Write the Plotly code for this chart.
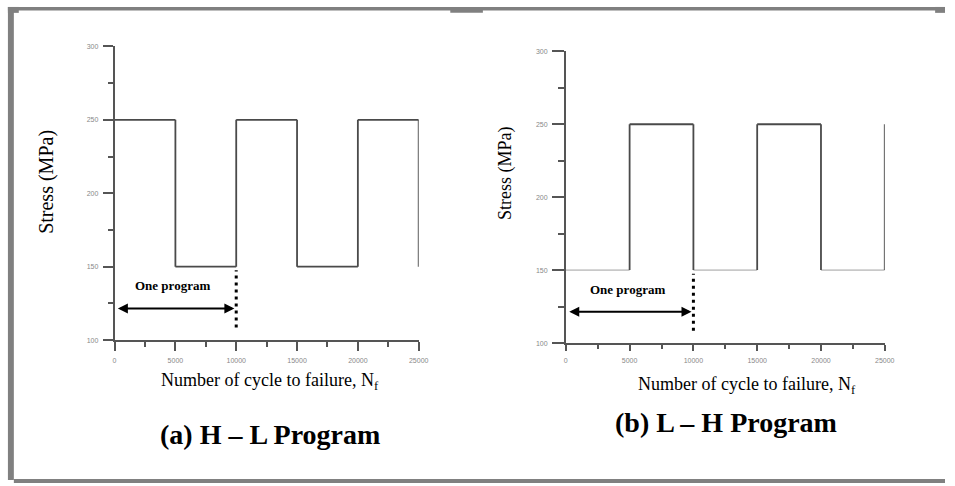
import plotly.graph_objects as go

# ---------------- data ----------------
cycle_edges = [0, 5000, 10000, 15000, 20000, 25000]
hl_levels = [250, 150, 250, 150, 250, 150]   # H-L program (last value = start of next block)
lh_levels = [150, 250, 150, 250, 150, 250]   # L-H program
program_length = 10000
x_ticks = [0, 5000, 10000, 15000, 20000, 25000]
y_ticks = [100, 150, 200, 250, 300]
arrow_stress = 121.5
label_stress = 137
dotted_stress = [108.5, 147.5]

W, H = 955, 486
def px(x): return x / W
def py(y): return 1 - y / H

DARK = "#4a4a4a"
LIGHT = "#c8c8c8"
AX = "#555555"
SERIF = "Liberation Serif, Times New Roman, serif"

fig = go.Figure()

def split_segments(xs, ys, low_light):
    dark_x, dark_y, light_x, light_y = [], [], [], []
    lo = min(ys)
    for i in range(len(xs) - 1):
        if low_light and ys[i] == lo:
            light_x += [xs[i], xs[i + 1], None]; light_y += [ys[i], ys[i], None]
        else:
            dark_x += [xs[i], xs[i + 1], None]; dark_y += [ys[i], ys[i], None]
        dark_x += [xs[i + 1], xs[i + 1], None]; dark_y += [ys[i], ys[i + 1], None]
    return dark_x, dark_y, light_x, light_y

# panel a
dx, dy, lx, ly = split_segments(cycle_edges, hl_levels, False)
fig.add_trace(go.Scatter(x=dx, y=dy, mode="lines", line=dict(color=DARK, width=1.8),
                         xaxis="x", yaxis="y", hoverinfo="skip"))
fig.add_trace(go.Scatter(x=[program_length, program_length], y=dotted_stress, mode="lines",
                         line=dict(color="black", width=3, dash="3px,4px"),
                         xaxis="x", yaxis="y", hoverinfo="skip"))
# panel b
dx, dy, lx, ly = split_segments(cycle_edges, lh_levels, True)
fig.add_trace(go.Scatter(x=lx, y=ly, mode="lines", line=dict(color=LIGHT, width=1.8),
                         xaxis="x2", yaxis="y2", hoverinfo="skip"))
fig.add_trace(go.Scatter(x=dx, y=dy, mode="lines", line=dict(color=DARK, width=1.8),
                         xaxis="x2", yaxis="y2", hoverinfo="skip"))
fig.add_trace(go.Scatter(x=[program_length, program_length], y=dotted_stress, mode="lines",
                         line=dict(color="black", width=3, dash="3px,4px"),
                         xaxis="x2", yaxis="y2", hoverinfo="skip"))

tickfont = dict(family="Liberation Sans, Arial, sans-serif", size=7, color="#888888")

def xaxis(domain, anchor, tl, mtl):
    return dict(domain=domain, anchor=anchor, range=[0, 25000], tickvals=x_ticks,
                ticktext=[str(v) for v in x_ticks], showline=True, linecolor=AX, linewidth=1.6,
                ticks="outside", ticklen=tl, tickwidth=1.6, tickcolor=AX, showgrid=False,
                zeroline=False, tickfont=tickfont, ticklabelstandoff=4,
                minor=dict(ticks="outside", dtick=2500, tick0=0, ticklen=mtl, tickwidth=1.6,
                           tickcolor=AX, showgrid=False))

def yaxis(domain, anchor, tl, mtl):
    return dict(domain=domain, anchor=anchor, range=[100, 300], tickvals=y_ticks,
                ticktext=[str(v) for v in y_ticks], showline=True, linecolor=AX, linewidth=1.6,
                ticks="outside", ticklen=tl, tickwidth=1.6, tickcolor=AX, showgrid=False,
                zeroline=False, tickfont=tickfont, ticklabelstandoff=3,
                minor=dict(ticks="outside", dtick=25, tick0=100, ticklen=mtl, tickwidth=1.6,
                           tickcolor=AX, showgrid=False))

annotations = []
def paper_text(x, y, text, size, angle=0):
    annotations.append(dict(x=px(x), y=py(y), xref="paper", yref="paper", text=text,
                            showarrow=False, textangle=angle, xanchor="center", yanchor="middle",
                            font=dict(family=SERIF, size=size, color="black")))

paper_text(45, 180, "Stress (MPa)", 20, angle=-90)
paper_text(510, 172, "Stress (MPa)", 18, angle=-90)
paper_text(271, 383, "Number of cycle to failure, N<sub>f</sub>", 18)
paper_text(754, 387, "Number of cycle to failure, N<sub>f</sub>", 18)
paper_text(271, 437, "<b>(a) H – L Program</b>", 28)
paper_text(733, 425, "<b>(b) L – H Program</b>", 28)

for xr, yr in (("x", "y"), ("x2", "y2")):
    annotations.append(dict(x=4800, y=label_stress, xref=xr, yref=yr, text="<b>One program</b>",
                            showarrow=False, font=dict(family=SERIF, size=13, color="black")))
    annotations.append(dict(x=program_length - 150, y=arrow_stress, ax=150, ay=arrow_stress,
                            xref=xr, yref=yr, axref=xr, ayref=yr, text="", showarrow=True,
                            arrowhead=2, startarrowhead=2, arrowside="end+start",
                            arrowsize=1, startarrowsize=1, arrowwidth=2, arrowcolor="black"))

G = "#808080"
frame = [
    (6, 3, 955, 6.5),     # top bar
    (6, 3, 17, 9),        # top-left notch
    (945, 3, 955, 9),     # top-right notch
    (454, 3, 487, 9),     # middle notch
    (6, 3, 12, 483),      # left bar
    (12, 482, 955, 486),  # bottom bar
]
shapes = [dict(type="rect", xref="paper", yref="paper", x0=px(a), x1=px(c), y0=py(d), y1=py(b),
               fillcolor=G, line=dict(width=0), layer="above") for a, b, c, d in frame]

fig.update_layout(
    width=W, height=H, margin=dict(l=0, r=0, t=0, b=0),
    paper_bgcolor="white", plot_bgcolor="white", showlegend=False,
    xaxis=xaxis([px(114), px(422)], "y", 9, 5),
    yaxis=yaxis([py(341), py(43)], "x", 10, 5),
    xaxis2=xaxis([px(571), px(894)], "y2", 6, 4),
    yaxis2=yaxis([py(344), py(48)], "x2", 12, 6),
    annotations=annotations, shapes=shapes,
)

fig.write_html("out.html")
